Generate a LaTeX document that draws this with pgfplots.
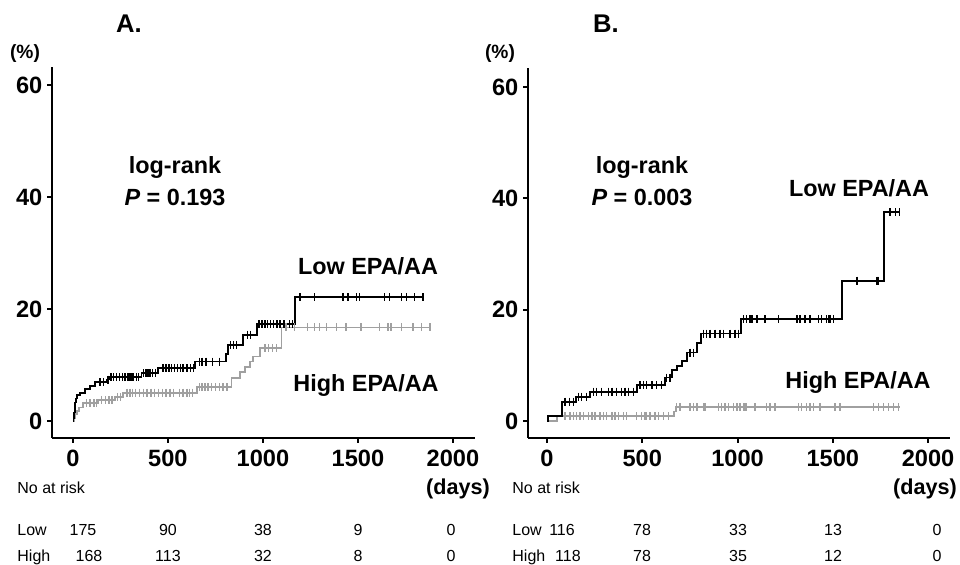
\documentclass[border=0pt]{standalone}
\usepackage{pgfplots}
\pgfplotsset{compat=1.18}
\usepackage{fontspec}
\setmainfont{Liberation Sans}
\definecolor{kmgray}{RGB}{160,160,160}
\begin{document}
\begin{tikzpicture}
\useasboundingbox (0,0) rectangle (480pt,-282.5pt);
\pgfplotsset{km/.style={scale only axis, axis x line=bottom, axis y line=left,
  axis line style={-,line width=1.1pt}, tick style={black,line width=1pt},
  tick align=outside, major tick length=2.5pt,
  xtick={0,500,1000,1500,2000}, ytick={0,20,40,60},
  ticklabel style={font=\fontsize{11.8}{13}\selectfont\bfseries},
  yticklabel style={xshift=1.2pt},
  /pgf/number format/assume math mode=true,
  /pgf/number format/set thousands separator={}, clip=false},
  lowline/.style={black, line width=0.9pt, const plot},
  highline/.style={kmgray, line width=0.9pt, const plot},
  lowcens/.style={black, only marks, mark=|, mark size=2pt, mark options={line width=0.7pt}},
  highcens/.style={kmgray, only marks, mark=|, mark size=2pt, mark options={line width=0.7pt}}}
% ---------------- Panel A
\begin{axis}[km, at={(26pt,-219pt)}, anchor=south west, width=211.5pt, height=185.5pt,
  xmin=-110, xmax=2116, ymin=-3.04, ymax=63.2]
\addplot[highline] coordinates {(0,0) (5,0.6) (10,1.2) (20,1.8) (32,2.4) (54,3.15) (133,3.75) (221,4.3) (265,5.05) (651,6.0) (835,7.6) (879,8.8) (905,9.7) (932,10.6) (949,11.5) (984,13.0) (1098,16.7) (1879,16.7)};
\addplot[highcens] coordinates {(70,3.15) (90,3.15) (110,3.15) (125,3.15) (150,3.75) (170,3.75) (190,3.75) (205,3.75) (235,4.3) (250,4.3) (285,5.05) (300,5.05) (315,5.05) (330,5.05) (350,5.05) (370,5.05) (390,5.05) (410,5.05) (430,5.05) (450,5.05) (470,5.05) (490,5.05) (510,5.05) (530,5.05) (560,5.05) (580,5.05) (600,5.05) (615,5.05) (630,5.05) (665,6.0) (680,6.0) (695,6.0) (710,6.0) (730,6.0) (750,6.0) (770,6.0) (790,6.0) (810,6.0) (1010,13.0) (1030,13.0) (1050,13.0) (1070,13.0) (1122,16.7) (1166,16.7) (1236,16.7) (1271,16.7) (1298,16.7) (1333,16.7) (1386,16.7) (1438,16.7) (1517,16.7) (1614,16.7) (1658,16.7) (1675,16.7) (1728,16.7) (1789,16.7) (1833,16.7) (1879,16.7)};
\addplot[lowline] coordinates {(0,0) (3,0.6) (6,1.5) (9,2.4) (12,3.3) (16,4.0) (20,4.6) (37,5.05) (63,5.65) (89,6.25) (116,6.9) (177,7.4) (195,7.8) (361,8.5) (449,9.4) (642,10.6) (805,12.0) (815,13.6) (897,15.4) (967,17.3) (1168,22.1) (1847,22.1)};
\addplot[lowcens] coordinates {(142,6.9) (160,6.9) (185,7.4) (200,7.8) (215,7.8) (230,7.8) (245,7.8) (260,7.8) (275,7.8) (290,7.8) (300,7.8) (310,7.8) (320,7.8) (335,7.8) (345,7.8) (370,8.5) (385,8.5) (395,8.5) (405,8.5) (420,8.5) (435,8.5) (475,9.4) (490,9.4) (505,9.4) (520,9.4) (535,9.4) (550,9.4) (565,9.4) (580,9.4) (600,9.4) (620,9.4) (635,9.4) (665,10.6) (680,10.6) (700,10.6) (735,10.6) (770,10.6) (830,13.6) (845,13.6) (860,13.6) (920,15.4) (935,15.4) (980,17.3) (995,17.3) (1010,17.3) (1025,17.3) (1040,17.3) (1055,17.3) (1075,17.3) (1090,17.3) (1110,17.3) (1140,17.3) (1155,17.3) (1195,22.1) (1272,22.1) (1421,22.1) (1447,22.1) (1491,22.1) (1508,22.1) (1640,22.1) (1667,22.1) (1728,22.1) (1754,22.1) (1798,22.1) (1842,22.1)};
\end{axis}
% ---------------- Panel B
\begin{axis}[km, at={(264pt,-219pt)}, anchor=south west, width=211pt, height=185pt,
  xmin=-100, xmax=2115, ymin=-3.05, ymax=63.4]
\addplot[highline] coordinates {(0,0) (51,0.85) (665,1.7) (675,2.45) (1853,2.45)};
\addplot[highcens] coordinates {(94,0.85) (121,0.85) (138,0.85) (156,0.85) (173,0.85) (191,0.85) (217,0.85) (235,0.85) (252,0.85) (278,0.85) (296,0.85) (313,0.85) (340,0.85) (357,0.85) (374,0.85) (401,0.85) (418,0.85) (471,0.85) (497,0.85) (514,0.85) (523,0.85) (541,0.85) (567,0.85) (585,0.85) (611,0.85) (637,0.85) (681,2.45) (698,2.45) (751,2.45) (768,2.45) (786,2.45) (821,2.45) (829,2.45) (899,2.45) (917,2.45) (934,2.45) (952,2.45) (978,2.45) (996,2.45) (1013,2.45) (1031,2.45) (1039,2.45) (1048,2.45) (1092,2.45) (1153,2.45) (1171,2.45) (1197,2.45) (1320,2.45) (1337,2.45) (1363,2.45) (1381,2.45) (1398,2.45) (1433,2.45) (1512,2.45) (1538,2.45) (1713,2.45) (1739,2.45) (1765,2.45) (1792,2.45) (1818,2.45) (1844,2.45)};
\addplot[lowline] coordinates {(0,0) (5,0.86) (77,3.47) (152,4.37) (226,5.27) (474,6.5) (619,7.8) (655,9.2) (684,9.9) (707,10.8) (733,12.3) (789,14.0) (808,15.7) (1018,18.3) (1550,25.2) (1769,37.5) (1849,37.5)};
\addplot[lowcens] coordinates {(94,3.47) (117,3.47) (138,3.47) (164,4.37) (182,4.37) (208,4.37) (243,5.27) (261,5.27) (287,5.27) (322,5.27) (340,5.27) (366,5.27) (392,5.27) (410,5.27) (427,5.27) (453,5.27) (488,6.5) (506,6.5) (523,6.5) (550,6.5) (576,6.5) (602,6.5) (628,7.8) (646,7.8) (751,12.3) (768,12.3) (821,15.7) (838,15.7) (856,15.7) (882,15.7) (908,15.7) (926,15.7) (961,15.7) (987,15.7) (1004,15.7) (1031,18.3) (1048,18.3) (1066,18.3) (1075,18.3) (1101,18.3) (1144,18.3) (1214,18.3) (1311,18.3) (1328,18.3) (1354,18.3) (1381,18.3) (1424,18.3) (1442,18.3) (1468,18.3) (1477,18.3) (1486,18.3) (1503,18.3) (1626,25.2) (1731,25.2) (1739,25.2) (1800,37.5) (1830,37.5) (1849,37.5)};
\end{axis}
% ---------------- Texts
\begin{scope}[x=0.5pt,y=-0.5pt]
\tikzset{big/.style={font=\fontsize{12.8}{14}\selectfont\bfseries, inner sep=0pt},
  ann/.style={font=\fontsize{11.7}{14}\selectfont\bfseries, inner sep=0pt},
  pct/.style={font=\fontsize{9.6}{11}\selectfont\bfseries, inner sep=0pt},
  days/.style={font=\fontsize{10.8}{12}\selectfont\bfseries, inner sep=0pt},
  risk/.style={font=\fontsize{8}{10}\selectfont, inner sep=0pt, anchor=base},
  riskl/.style={font=\fontsize{8}{10}\selectfont, inner sep=0pt, anchor=base west}}
\node[big] at (129,24) {A.};
\node[big] at (606,24) {B.};
\node[pct] at (25,54) {(\%)};
\node[pct] at (500,54) {(\%)};
\node[ann] at (175,168) {log-rank};
\node[ann] at (175,197) {\textit{P} = 0.193};
\node[ann] at (642,168) {log-rank};
\node[ann] at (642,197) {\textit{P} = 0.003};
\node[ann] at (368,266) {Low EPA/AA};
\node[ann] at (366,386) {High EPA/AA};
\node[ann] at (859,188) {Low EPA/AA};
\node[ann] at (858,383) {High EPA/AA};
\node[days] at (458,489) {(days)};
\node[days] at (925,489) {(days)};
% risk table A
\node[riskl] at (17,494) {No at risk};
\node[riskl] at (17,536) {Low};
\node[riskl] at (17,562) {High};
\node[risk] at (83,536) {175};
\node[risk] at (168,536) {90};
\node[risk] at (263,536) {38};
\node[risk] at (358,536) {9};
\node[risk] at (451,536) {0};
\node[risk] at (89,562) {168};
\node[risk] at (168,562) {113};
\node[risk] at (263,562) {32};
\node[risk] at (358,562) {8};
\node[risk] at (451,562) {0};
% risk table B
\node[riskl] at (512,494) {No at risk};
\node[riskl] at (512,536) {Low};
\node[riskl] at (512,562) {High};
\node[risk] at (562,536) {116};
\node[risk] at (642,536) {78};
\node[risk] at (738,536) {33};
\node[risk] at (833,536) {13};
\node[risk] at (937,536) {0};
\node[risk] at (568,562) {118};
\node[risk] at (642,562) {78};
\node[risk] at (738,562) {35};
\node[risk] at (833,562) {12};
\node[risk] at (937,562) {0};
\end{scope}
\end{tikzpicture}
\end{document}
